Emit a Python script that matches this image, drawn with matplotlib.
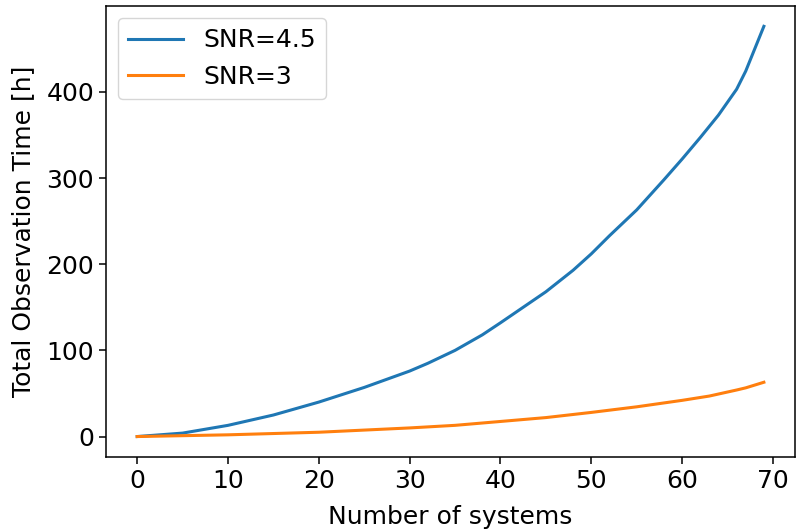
import matplotlib
matplotlib.use("Agg")
import matplotlib.pyplot as plt

# values
x_hi = [0, 5, 10, 15, 20, 25, 30, 32, 35, 38, 40, 45, 48, 50, 52, 55, 58, 60, 62, 64, 66, 67, 69]
snr_45 = [0, 4, 13, 25, 40, 57, 76, 85, 100, 118, 132, 168, 193, 212, 233, 263, 298, 322, 347, 373, 403, 424, 476]

x_lo = [0, 10, 20, 30, 35, 40, 45, 50, 55, 60, 63, 66, 67, 69]
snr_3 = [0, 2, 5, 10, 13, 17.5, 22, 28, 34.5, 42, 47, 54, 56.5, 63]

fs = 18
fig = plt.figure(figsize=(7.96, 5.29), dpi=100)
ax = fig.add_axes([0.133, 0.136, 0.866, 0.853])

ax.plot(x_hi, snr_45, color="#1f77b4", lw=2.2, label="SNR=4.5")
ax.plot(x_lo, snr_3, color="#ff7f0e", lw=2.2, label="SNR=3")

ax.set_xlabel("Number of systems", fontsize=fs, labelpad=9)
ax.set_ylabel("Total Observation Time [h]", fontsize=fs, labelpad=8)
ax.set_xticks([0, 10, 20, 30, 40, 50, 60, 70])
ax.set_yticks([0, 100, 200, 300, 400])
ax.tick_params(labelsize=fs, width=1.1, length=5)
for s in ax.spines.values():
    s.set_linewidth(1.1)

ax.legend(loc="upper left", fontsize=fs, handlelength=2.2)

fig.savefig("out.png", dpi=100)
